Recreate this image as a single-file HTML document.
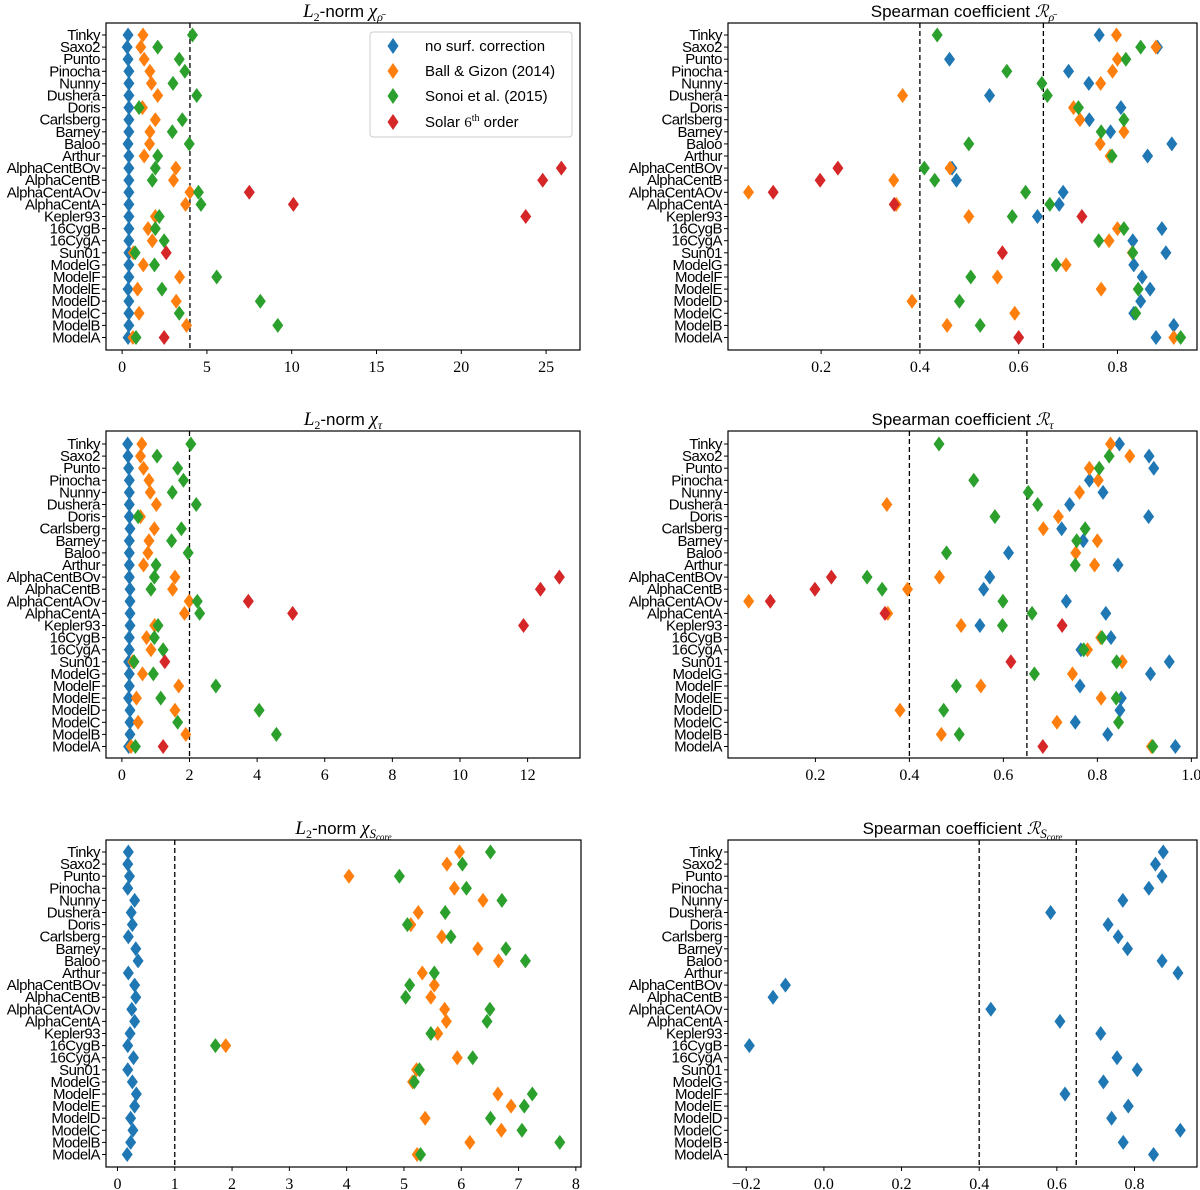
<!DOCTYPE html>
<html><head><meta charset="utf-8">
<style>
html,body{margin:0;padding:0;background:#fff;}
svg{display:block;}
.cat{font-family:"Liberation Sans",sans-serif;font-size:15px;letter-spacing:-0.5px;}
.tick{font-family:"Liberation Serif",serif;font-size:16px;}
.ttl{font-family:"Liberation Sans",sans-serif;font-size:17px;}
.leg{font-family:"Liberation Sans",sans-serif;font-size:15px;}
</style></head>
<body>
<svg id="fig" width="1200" height="1190" viewBox="0 0 1200 1190" xmlns="http://www.w3.org/2000/svg"></svg>
<script>
const categories = ["Tinky","Saxo2","Punto","Pinocha","Nunny","Dushera","Doris","Carlsberg","Barney","Baloo","Arthur","AlphaCentBOv","AlphaCentB","AlphaCentAOv","AlphaCentA","Kepler93","16CygB","16CygA","Sun01","ModelG","ModelF","ModelE","ModelD","ModelC","ModelB","ModelA"];
const seriesNames = ["no surf. correction","Ball & Gizon (2014)","Sonoi et al. (2015)","Solar 6th order"];
const seriesColors = ["#1f77b4","#ff7f0e","#2ca02c","#d62728"];

// Panel 1: L2-norm chi_rho
const p1Blue = [0.35,0.3,0.35,0.4,0.4,0.4,0.4,0.4,0.4,0.35,0.4,0.4,0.4,0.4,0.4,0.4,0.4,0.4,0.4,0.4,0.4,0.35,0.4,0.4,0.4,0.35];
const p1Orange = [1.23,1.1,1.3,1.64,1.73,2.1,1.2,1.96,1.64,1.62,1.3,3.17,3.03,4.0,3.74,1.96,1.53,1.78,0.66,1.25,3.39,0.91,3.19,1.0,3.8,0.64];
const p1Green = [4.15,2.1,3.37,3.7,3.0,4.4,1.0,3.55,2.96,3.96,2.1,1.96,1.78,4.5,4.65,2.19,1.96,2.48,0.77,1.91,5.58,2.35,8.15,3.37,9.18,0.82];
const p1Red = [null,null,null,null,null,null,null,null,null,null,null,25.9,24.8,7.5,10.1,23.8,null,null,2.6,null,null,null,null,null,null,2.48];
const p1Ticks = [0,5,10,15,20,25];
const p1Ref = [4];

// Panel 2: Spearman R_rho
const p2Blue = [0.763,0.881,0.46,0.701,0.742,0.541,0.807,0.743,0.786,0.91,0.861,0.465,0.474,0.69,0.682,0.638,0.89,0.831,0.898,0.833,0.85,0.866,0.847,0.833,0.914,0.878];
const p2Orange = [0.798,0.878,0.80,0.79,0.766,0.365,0.711,0.724,0.813,0.765,0.785,0.461,0.347,0.053,0.352,0.499,0.80,0.783,0.83,0.696,0.557,0.767,0.384,0.592,0.455,0.914];
const p2Green = [0.435,0.847,0.817,0.576,0.647,0.658,0.721,0.813,0.767,0.499,0.789,0.409,0.43,0.614,0.663,0.587,0.813,0.762,0.831,0.676,0.503,0.842,0.48,0.837,0.522,0.928];
const p2Red = [null,null,null,null,null,null,null,null,null,null,null,0.234,0.198,0.103,0.348,0.728,null,null,0.567,null,null,null,null,null,null,0.6];
const p2Ticks = [0.2,0.4,0.6,0.8];
const p2Ref = [0.4,0.65];

// Panel 3: L2-norm chi_tau
const p3Blue = [0.17,0.18,0.2,0.22,0.22,0.22,0.22,0.24,0.22,0.22,0.22,0.22,0.24,0.24,0.24,0.24,0.22,0.22,0.2,0.22,0.22,0.2,0.24,0.24,0.24,0.2];
const p3Orange = [0.59,0.55,0.64,0.8,0.84,1.02,0.55,0.96,0.8,0.77,0.64,1.57,1.5,1.99,1.85,0.97,0.73,0.86,0.32,0.61,1.68,0.43,1.57,0.48,1.89,0.27];
const p3Green = [2.04,1.04,1.65,1.82,1.49,2.2,0.48,1.76,1.47,1.96,1.01,0.96,0.86,2.23,2.3,1.07,0.96,1.22,0.36,0.93,2.78,1.15,4.06,1.65,4.57,0.4];
const p3Red = [null,null,null,null,null,null,null,null,null,null,null,12.94,12.38,3.74,5.05,11.88,null,null,1.27,null,null,null,null,null,null,1.22];
const p3Ticks = [0,2,4,6,8,10,12];
const p3Ref = [2];

// Panel 4: Spearman R_tau
const p4Blue = [0.847,0.91,0.92,0.783,0.812,0.741,0.909,0.724,0.77,0.611,0.844,0.571,0.558,0.734,0.818,0.55,0.829,0.765,0.953,0.913,0.763,0.851,0.848,0.753,0.822,0.966];
const p4Orange = [0.828,0.869,0.783,0.802,0.762,0.352,0.717,0.685,0.8,0.754,0.794,0.464,0.396,0.058,0.354,0.51,0.807,0.779,0.853,0.747,0.552,0.808,0.38,0.714,0.468,0.915];
const p4Green = [0.463,0.825,0.804,0.537,0.653,0.673,0.582,0.774,0.756,0.479,0.753,0.31,0.342,0.599,0.661,0.598,0.81,0.771,0.841,0.666,0.5,0.84,0.473,0.845,0.506,0.918];
const p4Red = [null,null,null,null,null,null,null,null,null,null,null,0.234,0.199,0.104,0.348,0.725,null,null,0.616,null,null,null,null,null,null,0.684];
const p4Ticks = [0.2,0.4,0.6,0.8,1.0];
const p4Ref = [0.4,0.65];

// Panel 5: L2-norm chi_Score
const p5Blue = [0.19,0.18,0.21,0.18,0.3,0.24,0.26,0.19,0.32,0.36,0.19,0.3,0.32,0.25,0.3,0.22,0.18,0.28,0.18,0.26,0.33,0.3,0.23,0.27,0.23,0.17];
const p5Orange = [5.97,5.75,4.04,5.88,6.38,5.25,5.12,5.66,6.29,6.65,5.32,5.53,5.47,5.71,5.74,5.59,1.89,5.93,5.22,5.15,6.64,6.87,5.37,6.7,6.15,5.23];
const p5Green = [6.51,6.02,4.92,6.09,6.71,5.72,5.06,5.82,6.78,7.12,5.53,5.1,5.03,6.5,6.45,5.47,1.71,6.2,5.27,5.18,7.24,7.1,6.51,7.06,7.72,5.29];
const p5Ticks = [0,1,2,3,4,5,6,7,8];
const p5Ref = [1];

// Panel 6: Spearman R_Score
const p6Blue = [0.874,0.854,0.871,0.837,0.77,0.584,0.732,0.758,0.782,0.871,0.912,-0.099,-0.131,0.43,0.608,0.713,-0.192,0.755,0.807,0.72,0.621,0.784,0.741,0.918,0.771,0.849];
const p6Ticks = [-0.2,0.0,0.2,0.4,0.6,0.8];
const p6Ref = [0.4,0.65];

const NS = "http://www.w3.org/2000/svg";
const fig = document.getElementById("fig");
function mk(tag, attrs, parent){
  const e = document.createElementNS(NS, tag);
  for (const k in attrs) e.setAttribute(k, attrs[k]);
  (parent||fig).appendChild(e);
  return e;
}
function fmt(v, dec){ const s = v.toFixed(dec); return s.replace("-", "\u2212"); }

function drawPanel(id, box, xmin, xmax, y0, series, ticks, dec, refs, title){
  const g = mk("g", {});
  
  
  const xs = v => box.l + (v - xmin) / (xmax - xmin) * (box.r - box.l);
  const ys = i => y0 + i * 12.1;
  refs.forEach(r => {
    const ln = mk("line", {x1: xs(r), x2: xs(r), y1: box.t, y2: box.b, stroke: "#000", "stroke-width": 1.3, "stroke-dasharray": "5,3"}, g);
    
    
  });
  series.forEach(s => {
    s.vals.forEach((v, i) => {
      if (v === null) return;
      const cx = xs(v), cy = ys(i);
      const p = mk("polygon", {points: `${cx},${cy-7.5} ${cx+5.5},${cy} ${cx},${cy+7.5} ${cx-5.5},${cy}`, fill: s.color}, g);
      
      
    });
  });
  const fr = mk("rect", {x: box.l, y: box.t, width: box.r - box.l, height: box.b - box.t, fill: "none", stroke: "#000", "stroke-width": 1.2}, g);
  
  
  categories.forEach((c, i) => {
    mk("line", {x1: box.l - 4, x2: box.l, y1: ys(i), y2: ys(i), stroke: "#000", "stroke-width": 1}, g);
    const t = mk("text", {x: box.l - 6, y: ys(i) + 5, "text-anchor": "end", class: "cat"}, g);
    t.textContent = c;
    
    
  });
  ticks.forEach(tv => {
    const x = xs(tv);
    mk("line", {x1: x, x2: x, y1: box.b, y2: box.b + 4, stroke: "#000", "stroke-width": 1}, g);
    const t = mk("text", {x: x, y: box.b + 22, "text-anchor": "middle", class: "tick"}, g);
    t.textContent = fmt(tv, dec);
    
    
  });
  const tt = mk("text", {x: (box.l + box.r) / 2, y: box.t - 6, "text-anchor": "middle", class: "ttl"}, g);
  tt.innerHTML = title;
  
  
  return g;
}

const SUB = (s, it) => `<tspan font-family="Liberation Serif, serif" ${it ? 'font-style="italic"' : ''} font-size="12" dy="4">${s}</tspan><tspan dy="-4"> </tspan>`;
const L2 = `<tspan font-family="Liberation Serif, serif" font-style="italic" font-size="19">L</tspan><tspan font-family="Liberation Serif, serif" font-size="12" dy="4">2</tspan><tspan dy="-4">-norm </tspan>`;
const CHI = `<tspan font-family="Liberation Serif, serif" font-style="italic" font-size="19">χ</tspan>`;
const SPR = `Spearman coefficient <tspan font-family="DejaVu Serif, serif" font-style="italic" font-size="17">ℛ</tspan>`;
const SCORE = `<tspan font-family="Liberation Serif, serif" font-style="italic" font-size="13" dy="4">S</tspan><tspan font-family="Liberation Serif, serif" font-style="italic" font-size="9" dy="2">core</tspan><tspan dy="-6"></tspan>`;

const C = seriesColors;
drawPanel("panel-l2-rho", {l:106,r:580,t:23,b:350}, -0.95, 27.0, 35,
  [{vals:p1Blue,color:C[0]},{vals:p1Orange,color:C[1]},{vals:p1Green,color:C[2]},{vals:p1Red,color:C[3]}],
  p1Ticks, 0, p1Ref, L2 + CHI + SUB("ρ̄", true));
drawPanel("panel-spearman-rho", {l:728,r:1197,t:23,b:350}, 0.0115, 0.961, 35,
  [{vals:p2Blue,color:C[0]},{vals:p2Orange,color:C[1]},{vals:p2Green,color:C[2]},{vals:p2Red,color:C[3]}],
  p2Ticks, 1, p2Ref, SPR + SUB("ρ̄", true));
drawPanel("panel-l2-tau", {l:106,r:580,t:431,b:758}, -0.47, 13.55, 444,
  [{vals:p3Blue,color:C[0]},{vals:p3Orange,color:C[1]},{vals:p3Green,color:C[2]},{vals:p3Red,color:C[3]}],
  p3Ticks, 0, p3Ref, L2 + CHI + SUB("τ", true));
drawPanel("panel-spearman-tau", {l:728,r:1197,t:431,b:758}, 0.014, 1.012, 444,
  [{vals:p4Blue,color:C[0]},{vals:p4Orange,color:C[1]},{vals:p4Green,color:C[2]},{vals:p4Red,color:C[3]}],
  p4Ticks, 1, p4Ref, SPR + SUB("τ", true));
drawPanel("panel-l2-score", {l:106,r:581,t:840,b:1167}, -0.2, 8.09, 852,
  [{vals:p5Blue,color:C[0]},{vals:p5Orange,color:C[1]},{vals:p5Green,color:C[2]}],
  p5Ticks, 0, p5Ref, L2 + CHI + SCORE);
drawPanel("panel-spearman-score", {l:728,r:1197,t:840,b:1167}, -0.247, 0.961, 852,
  [{vals:p6Blue,color:C[0]}],
  p6Ticks, 1, p6Ref, SPR + SCORE);

const lg = mk("g", {});


mk("rect", {x: 370, y: 32, width: 202, height: 105, rx: 3, fill: "#fff", stroke: "#ccc", "stroke-width": 1}, lg);
const legY = [46, 71, 96, 122];
seriesNames.forEach((n, i) => {
  const cx = 393, cy = legY[i];
  const p = mk("polygon", {points: `${cx},${cy-8} ${cx+5.5},${cy} ${cx},${cy+8} ${cx-5.5},${cy}`, fill: seriesColors[i]}, lg);
  
  
  const t = mk("text", {x: 425, y: cy + 5, class: "leg"}, lg);
  if (i === 3) t.innerHTML = 'Solar <tspan font-family="Liberation Serif, serif">6</tspan><tspan font-family="Liberation Serif, serif" font-size="10" dy="-6">th</tspan><tspan dy="6"> order</tspan>';
  else t.textContent = n;
  
  
});
</script>
</body></html>
